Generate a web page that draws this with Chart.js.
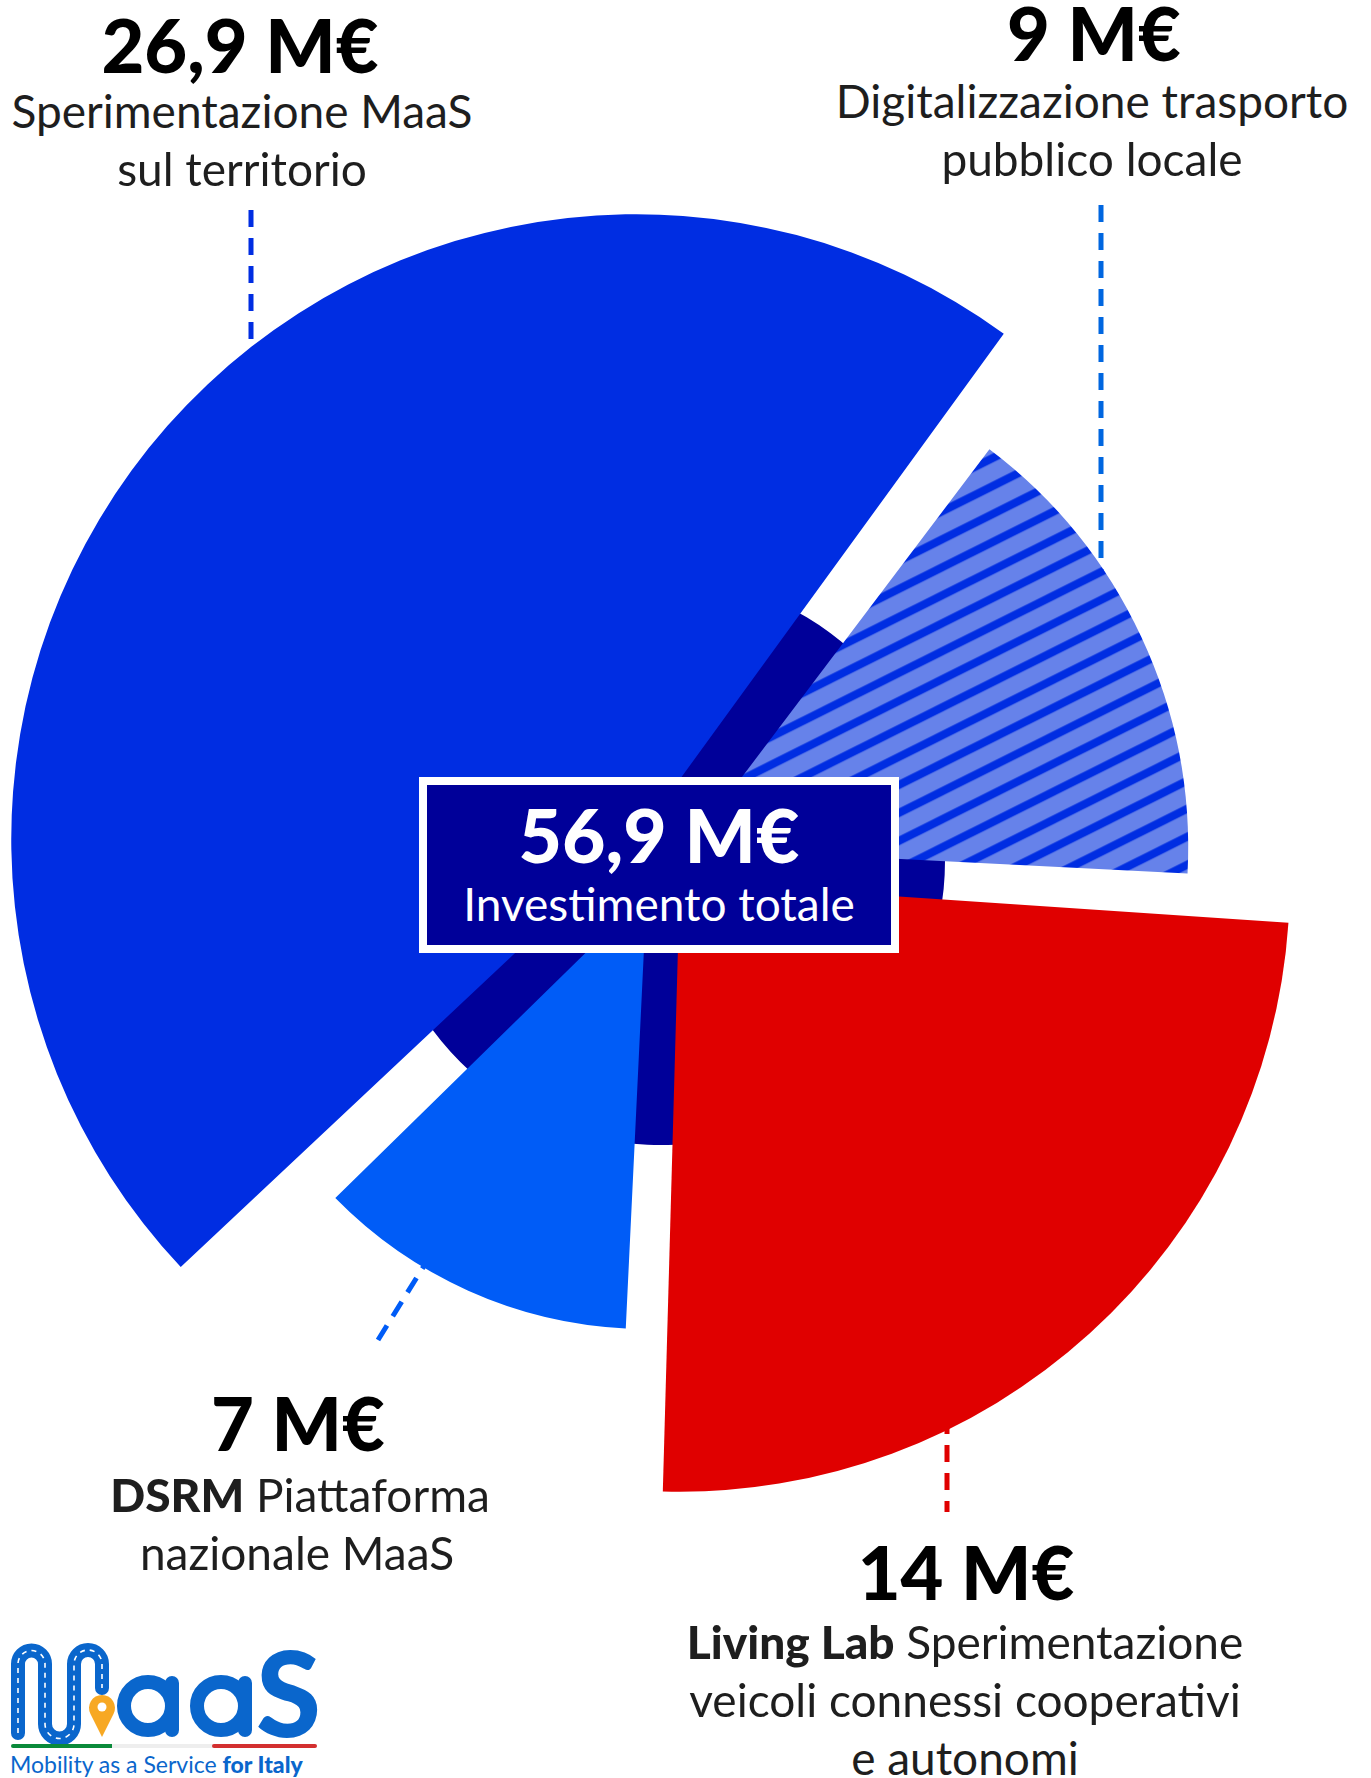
<!DOCTYPE html>
<html lang="it">
<head>
<meta charset="utf-8">
<title>MaaS for Italy - investimenti</title>
<script src="https://cdn.jsdelivr.net/npm/chart.js@4.4.1/dist/chart.umd.min.js"></script>
<style>
  html, body { margin: 0; padding: 0; background: #fff; }
  body {
    width: 1371px; height: 1778px; position: relative; overflow: hidden;
    font-family: Lato, "Noto Sans", sans-serif; color: #1e1e1e;
  }
  #linee { position: absolute; left: 0; top: 0; z-index: 0; }
  #torta-box { position: absolute; left: -39px; top: 161px; width: 1400px; height: 1400px; z-index: 1; }
  .ln {
    position: absolute; transform: translateX(-50%); white-space: nowrap;
    line-height: 1.2; z-index: 2; font-size: 46px;
  }
  .num { font-size: 74px; font-weight: 900; color: #000; }
  #totale {
    position: absolute; left: 419px; top: 777px; width: 464px; height: 160px;
    background: #000099; border: 8px solid #fff; z-index: 3;
  }
  #totale .ln { color: #fff; }
  #logo { position: absolute; left: 0; top: 1640px; z-index: 2; }
</style>
</head>
<body>

<svg id="linee" width="1371" height="1778">
  <g fill="none" stroke-width="5" stroke-dasharray="17 11">
    <line x1="251" y1="210" x2="251" y2="400" stroke="#002de2"/>
    <line x1="1101" y1="205" x2="1101" y2="660" stroke="#0066e0"/>
    <line x1="378" y1="1340" x2="440" y2="1240" stroke="#005cf7"/>
    <line x1="947" y1="1512" x2="947" y2="1360" stroke="#e00000" stroke-dashoffset="6"/>
  </g>
</svg>

<div id="torta-box"><canvas id="torta" width="1400" height="1400"></canvas></div>

<div class="ln num" style="left:240px; top:1px;">26,9 M€</div>
<div class="ln" style="left:242px; top:83px;">Sperimentazione MaaS</div>
<div class="ln" style="left:242px; top:141px;">sul territorio</div>

<div class="ln num" style="left:1094px; top:-11px;">9 M€</div>
<div class="ln" style="left:1092px; top:73px;">Digitalizzazione trasporto</div>
<div class="ln" style="left:1092px; top:131px;">pubblico locale</div>

<div class="ln num" style="left:298px; top:1379px;">7 M€</div>
<div class="ln" style="left:300px; top:1467px;"><b style="font-weight:900">DSRM</b> Piattaforma</div>
<div class="ln" style="left:297px; top:1525px;">nazionale MaaS</div>

<div class="ln num" style="left:966px; top:1528px;">14 M€</div>
<div class="ln" style="left:965px; top:1614px;"><b style="font-weight:900">Living Lab</b> Sperimentazione</div>
<div class="ln" style="left:965px; top:1672px;">veicoli connessi cooperativi</div>
<div class="ln" style="left:965px; top:1730px;">e autonomi</div>

<div id="totale">
  <div class="ln num" style="left:232px; top:4px; font-size:75px; color:#fff;">56,9 M€</div>
  <div class="ln" style="left:232px; top:91px;">Investimento totale</div>
</div>

<svg id="logo" width="340" height="138" viewBox="0 1640 340 138">
  <path d="M18 1733 V1664 a13.5 13.5 0 0 1 27 0 V1724 a14.5 14.5 0 0 0 29 0 V1664 a14 14 0 0 1 28 0 V1688"
        fill="none" stroke="#0a66cc" stroke-width="14" stroke-linecap="round"/>
  <path d="M18 1733 V1664 a13.5 13.5 0 0 1 27 0 V1724 a14.5 14.5 0 0 0 29 0 V1664 a14 14 0 0 1 28 0 V1688"
        fill="none" stroke="#fff" stroke-width="1.6" stroke-dasharray="5 5"/>
  <path d="M102 1737 L90.5 1714 A13 13 0 1 1 113.5 1714 Z" fill="#f7a823"/>
  <circle cx="102" cy="1707" r="4.5" fill="#fff"/>
  <circle cx="148" cy="1706" r="24" fill="none" stroke="#0a66cc" stroke-width="14"/>
  <line x1="172" y1="1683" x2="172" y2="1730" stroke="#0a66cc" stroke-width="14" stroke-linecap="round"/>
  <circle cx="221" cy="1706" r="24" fill="none" stroke="#0a66cc" stroke-width="14"/>
  <line x1="245" y1="1683" x2="245" y2="1730" stroke="#0a66cc" stroke-width="14" stroke-linecap="round"/>
  <text x="256" y="1737" font-family="Lato" font-weight="900" font-size="118" fill="#0a66cc">S</text>
  <line x1="13" y1="1746" x2="112" y2="1746" stroke="#0a8a3a" stroke-width="4" stroke-linecap="round"/>
  <line x1="112" y1="1746" x2="214" y2="1746" stroke="#eeeeee" stroke-width="4"/>
  <line x1="214" y1="1746" x2="315" y2="1746" stroke="#d32f2f" stroke-width="4" stroke-linecap="round"/>
  <text x="10" y="1773" font-family="Lato" font-size="23" fill="#0a66cc">Mobility as a Service <tspan font-weight="900">for Italy</tspan></text>
</svg>

<script>
// valori in milioni di euro, nell'ordine in cui gli spicchi girano in senso orario
const categorie = [
  'Digitalizzazione trasporto pubblico locale',
  'Living Lab Sperimentazione veicoli connessi cooperativi e autonomi',
  'DSRM Piattaforma nazionale MaaS',
  'Sperimentazione MaaS sul territorio'
];
const milioni = [9, 14, 7, 26.9];
// estensione radiale di ogni spicchio (unita' della scala r, 0-700)
const raggi = [470, 582, 401, 592];
// disco scuro di fondo
const raggioFondo = [284];

const totale = milioni.reduce((a, b) => a + b, 0);

// tratteggio diagonale per lo spicchio del trasporto pubblico
function rigatura() {
  const t = document.createElement('canvas');
  t.width = 56; t.height = 28;
  const c = t.getContext('2d');
  c.fillStyle = '#6682ea';
  c.fillRect(0, 0, 56, 28);
  c.strokeStyle = '#002de2';
  c.lineWidth = 8;
  [-28, 0, 28, 56].forEach(y0 => {
    c.beginPath();
    c.moveTo(-4, y0 + 2);
    c.lineTo(60, y0 - 30);
    c.stroke();
  });
  return c.createPattern(t, 'repeat');
}

const ctx = document.getElementById('torta').getContext('2d');
new Chart(ctx, {
  type: 'polarArea',
  data: {
    labels: categorie,
    datasets: [
      {
        data: raggi,
        angle: c => milioni[c.dataIndex] / totale * 360,
        backgroundColor: [rigatura(), '#e00000', '#005cf7', '#002de2'],
        // spostamento dal centro (Chart.js ne usa un quarto)
        offset: [120, 112, 140, 132],
        borderWidth: 0,
        order: 0
      },
      {
        data: raggioFondo,
        angle: 360,
        backgroundColor: '#000099',
        borderWidth: 0,
        order: 1
      }
    ]
  },
  options: {
    responsive: false,
    devicePixelRatio: 1,
    animation: false,
    events: [],
    layout: { padding: 0 },
    scales: {
      r: {
        display: false,
        min: 0,
        max: 700,
        startAngle: 36.5
      }
    },
    plugins: {
      legend: { display: false },
      tooltip: { enabled: false }
    }
  }
});
</script>
</body>
</html>
